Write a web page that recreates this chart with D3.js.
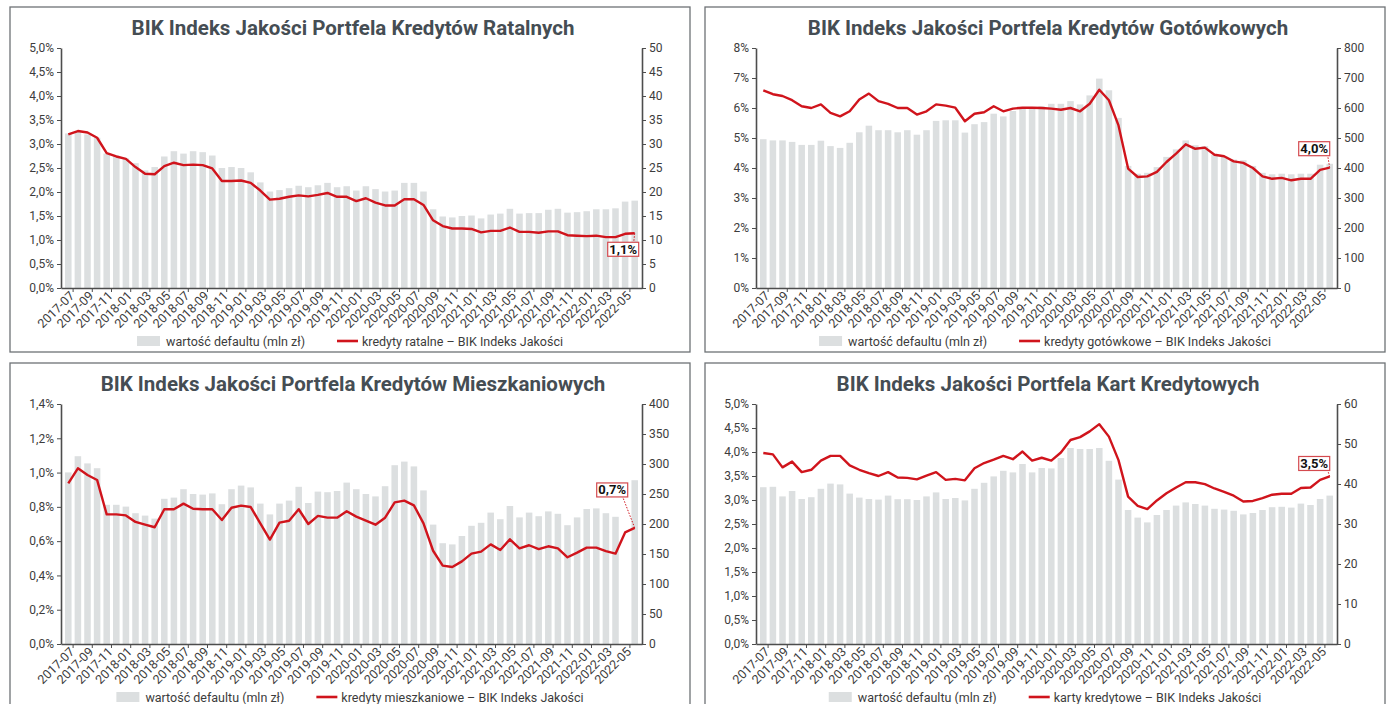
<!DOCTYPE html>
<html>
<head>
<meta charset="utf-8">
<script src="https://cdn.jsdelivr.net/npm/d3@7"></script>
<style>
  body { margin: 0; background: #fff; }
  svg { display: block; font-family: Roboto, "Noto Sans", sans-serif; }
</style>
</head>
<body>
<svg id="chart" width="1389" height="704"></svg>
<script>
// months on the x axis
const months = ["2017-07","2017-08","2017-09","2017-10","2017-11","2017-12",
  "2018-01","2018-02","2018-03","2018-04","2018-05","2018-06","2018-07","2018-08","2018-09","2018-10","2018-11","2018-12",
  "2019-01","2019-02","2019-03","2019-04","2019-05","2019-06","2019-07","2019-08","2019-09","2019-10","2019-11","2019-12",
  "2020-01","2020-02","2020-03","2020-04","2020-05","2020-06","2020-07","2020-08","2020-09","2020-10","2020-11","2020-12",
  "2021-01","2021-02","2021-03","2021-04","2021-05","2021-06","2021-07","2021-08","2021-09","2021-10","2021-11","2021-12",
  "2022-01","2022-02","2022-03","2022-04","2022-05","2022-06"];
const tickMonths = months.filter((m, i) => i % 2 === 0);

// kredyty ratalne
const ratalneDefault = [32.2,32.7,32,31.3,28,27.6,27,26,24.5,25.2, 27.4,28.5,28,28.5,28.3,27.6,25,25.2,25,24.1,
  22,20.1,20.4,20.8,21.3,21,21.4,21.9,21,21.2, 20.3,21.2,20.6,20.1,20.3,21.9,21.9,20.1,16.4,14.9,
  14.7,15,15.1,14.5,15.3,15.5,16.5,15.5,15.6,15.6, 16.3,16.5,15.7,15.8,16,16.4,16.4,16.6,18,18.2];
const ratalneIndex = [3.2,3.27,3.24,3.13,2.81,2.74,2.69,2.52,2.38,2.37, 2.54,2.61,2.56,2.57,2.56,2.49,2.23,2.23,2.24,2.19,
  2.03,1.84,1.86,1.9,1.93,1.91,1.94,1.98,1.9,1.9, 1.81,1.87,1.78,1.72,1.72,1.85,1.85,1.73,1.41,1.29,
  1.24,1.24,1.23,1.16,1.19,1.19,1.26,1.17,1.17,1.15, 1.18,1.18,1.1,1.09,1.08,1.09,1.06,1.06,1.13,1.14];

// kredyty gotowkowe
const gotowkoweDefault = [496,492,492,487,477,477,491,473,467,484, 519,541,526,526,519,526,511,526,557,559,
  559,518,546,553,581,572,590,603,601,606, 614,614,623,612,642,698,659,567,407,381,
  384,403,437,462,492,476,473,444,437,428, 426,407,384,379,381,379,381,381,411,414];
const gotowkoweIndex = [6.59,6.46,6.4,6.26,6.06,6.0,6.12,5.84,5.72,5.89, 6.28,6.48,6.23,6.14,6.0,6.0,5.78,5.89,6.12,6.08,
  6.01,5.56,5.81,5.86,6.06,5.89,5.98,6.01,6.01,6.0, 5.98,5.94,6.0,5.89,6.14,6.61,6.26,5.42,3.98,3.7,
  3.72,3.87,4.2,4.48,4.79,4.64,4.68,4.44,4.39,4.22, 4.17,4.0,3.72,3.64,3.67,3.59,3.64,3.64,3.94,4.01];

// kredyty mieszkaniowe (2022-05 bar not shown in the source)
const mieszkanioweDefault = [286,313,301,293,232,232,229,218,214,209, 242,244,258,250,249,251,233,258,264,261,
  234,216,234,239,262,235,254,253,255,269, 258,250,246,263,298,304,296,256,199,168,
  166,180,197,202,219,208,230,211,219,213, 221,217,198,211,225,226,218,212,null,273];
const mieszkanioweIndex = [0.937,1.025,0.986,0.957,0.756,0.756,0.75,0.712,0.696,0.681, 0.786,0.786,0.819,0.789,0.786,0.786,0.723,0.795,0.807,0.799,
  0.704,0.609,0.708,0.719,0.786,0.7,0.747,0.737,0.737,0.774, 0.743,0.72,0.696,0.737,0.826,0.836,0.809,0.704,0.544,0.457,
  0.449,0.482,0.527,0.539,0.581,0.548,0.611,0.558,0.576,0.554, 0.57,0.558,0.506,0.533,0.562,0.562,0.542,0.527,0.651,0.677];

// karty kredytowe
const kartyDefault = [39.2,39.3,36.9,38.25,36.25,36.7,38.8,40.1,39.9,37.6, 36.6,36.25,36.1,37.1,36.2,36.2,36,36.9,37.9,36.25,
  36.5,35.9,38.8,40.3,41.9,43.3,42.9,45,42.9,44, 43.9,46.5,49,48.75,48.75,49,45.8,41.1,33.5,31.6,
  30.4,32.25,33.5,34.6,35.4,35,34.6,33.8,33.6,33.3, 32.4,32.75,33.5,34.2,34.3,34.1,35.1,34.75,36.25,37.1];
const kartyIndex = [3.98,3.95,3.68,3.8,3.58,3.63,3.82,3.92,3.92,3.72, 3.63,3.56,3.5,3.58,3.47,3.46,3.43,3.51,3.58,3.42,
  3.44,3.41,3.66,3.77,3.84,3.92,3.85,4.01,3.82,3.88, 3.82,3.99,4.25,4.31,4.43,4.58,4.32,3.83,3.07,2.88,
  2.81,2.99,3.14,3.26,3.37,3.37,3.33,3.24,3.17,3.09, 2.97,2.98,3.04,3.11,3.13,3.13,3.25,3.26,3.42,3.49];

const titles = ["BIK Indeks Jakości Portfela Kredytów Ratalnych", "BIK Indeks Jakości Portfela Kredytów Gotówkowych",
                "BIK Indeks Jakości Portfela Kredytów Mieszkaniowych", "BIK Indeks Jakości Portfela Kart Kredytowych"];
const barLegend = "wartość defaultu (mln zł)";
const lineLegends = ["kredyty ratalne – BIK Indeks Jakości", "kredyty gotówkowe – BIK Indeks Jakości",
                     "kredyty mieszkaniowe – BIK Indeks Jakości", "karty kredytowe – BIK Indeks Jakości"];
const leftTicks = [d3.range(0, 5.01, 0.5), d3.range(0, 8.01, 1), d3.range(0, 1.41, 0.2), d3.range(0, 5.01, 0.5)];
const rightTicks = [d3.range(0, 51, 5), d3.range(0, 801, 100), d3.range(0, 401, 50), d3.range(0, 61, 10)];
const leftDecimals = [1, 0, 1, 1];

const BAR = "#dcdfe0", RED = "#d0141c", AXIS = "#4d4d4d", TXT = "#3c3c3c";
const fmtPct = (d, dec) => d.toFixed(dec).replace(".", ",") + "%";

const svg = d3.select("#chart");

const panels = [
  {x0: 10,  y0: 7,   bars: ratalneDefault,      line: ratalneIndex,      note: {bx: -27, by: 9,   lx: -1}},
  {x0: 705, y0: 7,   bars: gotowkoweDefault,    line: gotowkoweIndex,    note: {bx: -31, by: -26, lx: -2}},
  {x0: 10,  y0: 363, bars: mieszkanioweDefault, line: mieszkanioweIndex, note: {bx: -38, by: -45, lx: -12}},
  {x0: 705, y0: 363, bars: kartyDefault,        line: kartyIndex,        note: {bx: -31, by: -20, lx: -2}}
];

panels.forEach((p, k) => {
  const W = 680, H = k < 2 ? 345 : 360;
  const left = p.x0 + 51, right = p.x0 + 632, top = p.y0 + 41, bottom = p.y0 + 281;
  const g = svg.append("g");

  g.append("rect").attr("x", p.x0).attr("y", p.y0).attr("width", W).attr("height", H)
    .attr("fill", "none").attr("stroke", "#6e7276").attr("stroke-width", 1.3);

  g.append("text").attr("x", p.x0 + W / 2 + 3).attr("y", p.y0 + 28)
    .attr("text-anchor", "middle").attr("font-size", 20.5).attr("font-weight", 700)
    .attr("fill", "#454d53").text(titles[k]);

  const x = d3.scaleBand().domain(months).range([left, right]).paddingInner(0.32).paddingOuter(0.42);
  const yL = d3.scaleLinear().domain([0, d3.max(leftTicks[k])]).range([bottom, top]);
  const yR = d3.scaleLinear().domain([0, d3.max(rightTicks[k])]).range([bottom, top]);

  // bars
  g.selectAll("rect.bar").data(months.map((m, i) => [m, p.bars[i]]).filter(d => d[1] != null))
    .enter().append("rect").attr("class", "bar")
    .attr("x", d => x(d[0])).attr("width", x.bandwidth())
    .attr("y", d => yR(d[1])).attr("height", d => bottom - yR(d[1]))
    .attr("fill", BAR);

  // line
  const line = d3.line().x((d, i) => x(months[i]) + x.bandwidth() / 2).y(d => yL(d));
  g.append("path").datum(p.line).attr("d", line)
    .attr("fill", "none").attr("stroke", RED).attr("stroke-width", 2.4).attr("stroke-linejoin", "round");

  // axes
  const axL = g.append("g").attr("transform", `translate(${left},0)`)
    .call(d3.axisLeft(yL).tickValues(leftTicks[k]).tickSize(4).tickSizeOuter(0).tickPadding(3)
      .tickFormat(d => fmtPct(d, leftDecimals[k])));
  const axR = g.append("g").attr("transform", `translate(${right},0)`)
    .call(d3.axisRight(yR).tickValues(rightTicks[k]).tickSize(4).tickSizeOuter(0).tickPadding(3));
  const axB = g.append("g").attr("transform", `translate(0,${bottom})`)
    .call(d3.axisBottom(x).tickValues(tickMonths).tickSize(0).tickSizeOuter(0).tickPadding(4));
  axB.selectAll("text").attr("text-anchor", "end")
    .attr("transform", "rotate(-45)").attr("dx", "-0.1em").attr("dy", "0.55em");
  // small ticks between label pairs
  axB.selectAll("line.sep").data(tickMonths).enter().append("line")
    .attr("x1", d => x(d) + x.step() - (x.step() - x.bandwidth()) / 2)
    .attr("x2", d => x(d) + x.step() - (x.step() - x.bandwidth()) / 2)
    .attr("y1", 0).attr("y2", 4).attr("stroke", AXIS);
  [axL, axR, axB].forEach(a => {
    a.selectAll(".domain").attr("stroke", AXIS).attr("stroke-width", 1.6);
    a.selectAll(".tick line").attr("stroke", AXIS);
    a.selectAll("text").attr("font-size", 12).attr("fill", TXT).attr("font-family", "Roboto, sans-serif");
  });
  axB.selectAll("text").attr("font-size", 12.5);

  // annotation for the last point
  const n = months.length - 1;
  const px = x(months[n]) + x.bandwidth() / 2, py = yL(p.line[n]);
  const bw = 31, bh = 14;
  const bx = px + p.note.bx, by = py + p.note.by;
  const lineEndY = p.note.by > 0 ? by : by + bh;
  g.append("line").attr("x1", px).attr("y1", py).attr("x2", px + p.note.lx).attr("y2", lineEndY)
    .attr("stroke", RED).attr("stroke-width", 1).attr("stroke-dasharray", "1.5,1.5");
  g.append("rect").attr("x", bx).attr("y", by).attr("width", bw).attr("height", bh)
    .attr("fill", "#fff").attr("stroke", "#d44a4f").attr("stroke-width", 1.2);
  g.append("text").attr("x", bx + bw / 2).attr("y", by + bh / 2 + 4.5)
    .attr("text-anchor", "middle").attr("font-size", 13).attr("font-weight", 700).attr("fill", "#111")
    .text(fmtPct(p.line[n], 1));

  // legend centred in the panel
  const leg = g.append("g");
  const ly = p.y0 + 334;
  leg.append("rect").attr("x", 0).attr("y", ly - 5).attr("width", 23).attr("height", 10).attr("fill", BAR);
  const t1 = leg.append("text").attr("x", 29).attr("y", ly + 4.5).attr("font-size", 12.5).attr("fill", TXT).text(barLegend);
  const l1x = 29 + t1.node().getComputedTextLength() + 32;
  leg.append("line").attr("x1", l1x).attr("x2", l1x + 21).attr("y1", ly).attr("y2", ly)
    .attr("stroke", RED).attr("stroke-width", 2.6);
  const t2 = leg.append("text").attr("x", l1x + 25).attr("y", ly + 4.5).attr("font-size", 12.5).attr("fill", TXT).text(lineLegends[k]);
  const legW = l1x + 25 + t2.node().getComputedTextLength();
  leg.attr("transform", `translate(${p.x0 + W / 2 - legW / 2},0)`);
});
</script>
</body>
</html>
